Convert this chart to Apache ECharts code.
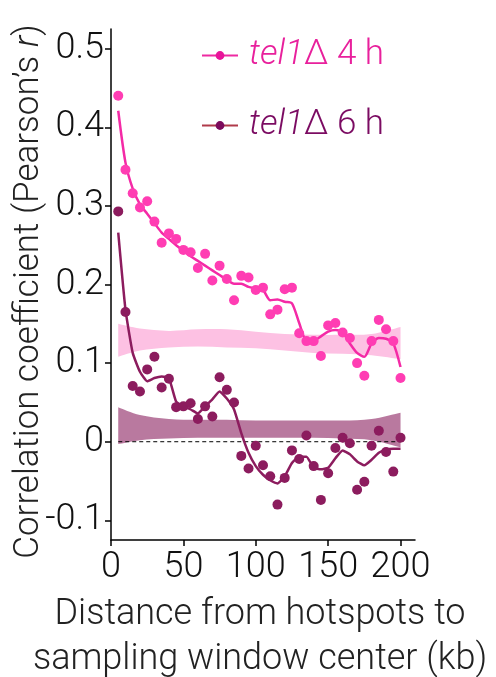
<!DOCTYPE html>
<html>
<head>
<meta charset="utf-8">
<script src="https://cdn.jsdelivr.net/npm/echarts@6/dist/echarts.min.js"></script>
<style>
  html, body { margin: 0; padding: 0; background: #fff; }
  #chart { width: 496px; height: 677px; }
</style>
</head>
<body>
<div id="chart"></div>
<script>
// distance from hotspot (kb)
const distances = [5, 10, 15, 20, 25, 30, 35, 40, 45, 50, 55, 60, 65, 70, 75, 80, 85, 90, 95, 100,
  105, 110, 115, 120, 125, 130, 135, 140, 145, 150, 155, 160, 165, 170, 175, 180, 185, 190, 195, 200];

// tel1 4 h
const r4h = [0.440, 0.346, 0.316, 0.298, 0.306, 0.280, 0.253, 0.265, 0.258, 0.244, 0.241, 0.221, 0.239, 0.205,
  0.224, 0.207, 0.180, 0.211, 0.209, 0.193, 0.196, 0.162, 0.168, 0.194, 0.196, 0.138, 0.128, 0.128, 0.109,
  0.148, 0.151, 0.139, 0.132, 0.100, 0.084, 0.128, 0.155, 0.143, 0.128, 0.081];
const fit4h = [0.421, 0.355, 0.322, 0.302, 0.290, 0.278, 0.266, 0.258, 0.250, 0.243, 0.236, 0.230, 0.224, 0.218,
  0.212, 0.206, 0.201, 0.201, 0.197, 0.195, 0.193, 0.180, 0.181, 0.178, 0.176, 0.151, 0.129, 0.129, 0.134,
  0.140, 0.142, 0.139, 0.125, 0.113, 0.108, 0.125, 0.132, 0.131, 0.125, 0.095];

// tel1 6 h
const r6h = [0.293, 0.165, 0.071, 0.064, 0.092, 0.108, 0.069, 0.080, 0.044, 0.045, 0.049, 0.029, 0.045, 0.032,
  0.082, 0.066, 0.050, -0.018, -0.034, -0.005, -0.030, -0.044, -0.080, -0.046, -0.011, -0.022, 0.008, -0.031,
  -0.074, -0.040, -0.008, 0.005, -0.002, -0.061, -0.051, -0.005, 0.014, -0.013, -0.038, 0.005];
const fit6h = [0.266, 0.168, 0.113, 0.089, 0.077, 0.081, 0.083, 0.081, 0.051, 0.045, 0.041, 0.036, 0.045, 0.054,
  0.064, 0.055, 0.041, 0.011, -0.014, -0.031, -0.042, -0.049, -0.053, -0.044, -0.027, -0.019, -0.019, -0.033,
  -0.035, -0.033, -0.021, -0.011, -0.016, -0.025, -0.030, -0.023, -0.014, -0.010, -0.009, -0.009];

// null (shuffled) bands
const bandX = [5, 20, 40, 60, 80, 100, 120, 140, 160, 180, 200];
const band4hLow  = [0.108, 0.116, 0.120, 0.121, 0.120, 0.119, 0.116, 0.113, 0.112, 0.110, 0.105];
const band4hHigh = [0.150, 0.144, 0.141, 0.143, 0.143, 0.140, 0.137, 0.136, 0.136, 0.137, 0.146];
const band6hLow  = [-0.003, 0.002, 0.004, 0.005, 0.005, 0.005, 0.005, 0.005, 0.004, 0.002, -0.007];
const band6hHigh = [0.044, 0.034, 0.029, 0.028, 0.028, 0.027, 0.027, 0.027, 0.027, 0.029, 0.037];

const xTicks = [0, 50, 100, 150, 200];
const yTicks = [-0.1, 0, 0.1, 0.2, 0.3, 0.4, 0.5];
const zeroLineX = [5, 200];

const PINK = '#ff3db3';
const PINK_LINE = '#f42aa6';
const PINK_BAND = '#fdc1e3';
const PURPLE = '#8c1c5e';
const PURPLE_BAND = '#b9799f';
const FONT = 'Roboto';

const pts = (xs, ys) => xs.map((x, i) => [x, ys[i]]);

const chart = echarts.init(document.getElementById('chart'));

// catmull-rom through pixel points, as svg path segments
function curve(p, first) {
  let d = (first ? 'M' : 'L') + p[0][0] + ' ' + p[0][1];
  for (let i = 0; i < p.length - 1; i++) {
    const p0 = p[Math.max(i - 1, 0)], p1 = p[i], p2 = p[i + 1], p3 = p[Math.min(i + 2, p.length - 1)];
    const c1 = [p1[0] + (p2[0] - p0[0]) / 6, p1[1] + (p2[1] - p0[1]) / 6];
    const c2 = [p2[0] - (p3[0] - p1[0]) / 6, p2[1] - (p3[1] - p1[1]) / 6];
    d += ' C' + c1.join(' ') + ' ' + c2.join(' ') + ' ' + p2.join(' ');
  }
  return d;
}

function bandSeries(low, high, color) {
  return {
    type: 'custom', silent: true, z: 1,
    data: [0],
    renderItem: (params, api) => {
      const top = bandX.map((x, i) => api.coord([x, high[i]]));
      const bot = bandX.map((x, i) => api.coord([x, low[i]])).reverse();
      return {
        type: 'path',
        shape: { pathData: curve(top, true) + ' ' + curve(bot, false) + ' Z' },
        style: { fill: color }
      };
    }
  };
}

const legendLabel = (color) => ({
  fontFamily: FONT, fontWeight: 300,
  rich: {
    i: { fontStyle: 'italic', fontWeight: 300, fontSize: 35, color: color, fontFamily: FONT, padding: [0, 0, 0, 6] },
    n: { fontSize: 35, fontWeight: 300, color: color, fontFamily: FONT }
  }
});

const option = {
  animation: false,
  grid: { left: 111, right: 81, top: 29, bottom: 137, outerBoundsMode: 'none' },
  legend: [
    {
      data: ['tel1Δ 4 h'], left: 196, top: 33, itemWidth: 36, itemHeight: 11,
      formatter: () => '{i|tel1}{n|Δ 4 h}', textStyle: legendLabel('#e8209c')
    },
    {
      data: ['tel1Δ 6 h'], left: 196, top: 103, itemWidth: 36, itemHeight: 11,
      formatter: () => '{i|tel1}{n|Δ 6 h}', textStyle: legendLabel('#7b0b62')
    }
  ],
  xAxis: {
    type: 'value', min: 0, max: 210,
    name: 'Distance from hotspots to\nsampling window center (kb)',
    nameLocation: 'middle', nameGap: 52,
    nameTextStyle: { fontFamily: FONT, fontWeight: 300, fontSize: 36, color: '#222', lineHeight: 45, padding: [0, 0, 0, -6] },
    axisLine: { onZero: false, lineStyle: { color: '#000', width: 1.5 } },
    axisTick: { customValues: xTicks, length: 6, lineStyle: { color: '#000', width: 1.5 } },
    axisLabel: { customValues: xTicks, margin: 10, fontFamily: FONT, fontWeight: 300, fontSize: 36, color: '#111' },
    splitLine: { show: false }
  },
  yAxis: {
    type: 'value', min: -0.125, max: 0.525,
    name: 'Correlation coefficient (Pearson\u2019s {r|r})',
    nameLocation: 'middle', nameGap: 64, nameRotate: 90, nameMoveOverlap: false,
    nameTextStyle: {
      fontFamily: FONT, fontWeight: 300, fontSize: 35, color: '#222', padding: [0, 14, 0, 0],
      rich: { r: { fontStyle: 'italic', fontWeight: 300, fontFamily: FONT, fontSize: 35, color: '#222' } }
    },
    axisLine: { show: true, onZero: false, lineStyle: { color: '#000', width: 1.5 } },
    axisTick: { show: true, customValues: yTicks, length: 6, lineStyle: { color: '#000', width: 1.5 } },
    axisLabel: {
      customValues: yTicks, margin: 7, fontFamily: FONT, fontWeight: 300, fontSize: 36, color: '#111',
      formatter: v => (Math.abs(v) < 1e-9 ? '0' : v.toFixed(1))
    },
    splitLine: { show: false }
  },
  series: [
    bandSeries(band4hLow, band4hHigh, PINK_BAND),
    bandSeries(band6hLow, band6hHigh, PURPLE_BAND),
    // zero reference
    { type: 'line', data: zeroLineX.map(x => [x, 0]), symbol: 'none', z: 2,
      lineStyle: { color: '#000', width: 1, type: [4, 3] } },
    // fits
    { type: 'line', data: pts(distances, fit4h), symbol: 'none', smooth: 0.25, z: 3,
      lineStyle: { color: PINK_LINE, width: 2.5 } },
    { type: 'line', data: pts(distances, fit6h), symbol: 'none', smooth: 0.15, z: 3,
      lineStyle: { color: PURPLE, width: 2.5 } },
    // points
    { type: 'scatter', data: pts(distances, r4h), symbolSize: 10, itemStyle: { color: PINK, opacity: 1 }, z: 4 },
    { type: 'scatter', data: pts(distances, r6h), symbolSize: 10, itemStyle: { color: PURPLE, opacity: 1 }, z: 4 },
    // legend entries
    { name: 'tel1Δ 4 h', type: 'line', data: [], symbol: 'circle', symbolSize: 11,
      itemStyle: { color: '#e8159a' }, lineStyle: { color: '#ee2aa2', width: 2 } },
    { name: 'tel1Δ 6 h', type: 'line', data: [], symbol: 'circle', symbolSize: 11,
      itemStyle: { color: '#7c0a5c' }, lineStyle: { color: '#b03a4a', width: 2 } }
  ]
};

chart.setOption(option);
</script>
</body>
</html>
